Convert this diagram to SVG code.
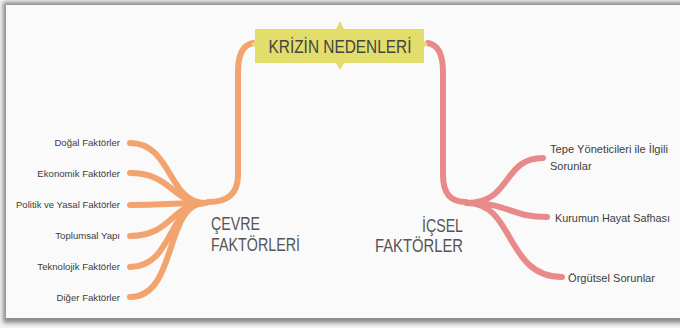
<svg xmlns="http://www.w3.org/2000/svg" width="680" height="328" viewBox="0 0 680 328">
<defs>
<filter id="blur" x="-5%" y="-5%" width="110%" height="110%"><feGaussianBlur stdDeviation="2.2"/></filter>
<style>
.lbl{font-family:"Liberation Sans",Arial,sans-serif;font-size:9.6px;fill:#3d3d3d;}
.rl{font-family:"Liberation Sans",Arial,sans-serif;font-size:11px;fill:#3d3d3d;}
.big{font-family:"Liberation Sans",Arial,sans-serif;font-size:18px;fill:#555;}
.title{font-family:"Liberation Sans",Arial,sans-serif;font-size:18px;fill:#444;}
.or{fill:none;stroke:#f2a36e;stroke-linecap:round;}
.pk{fill:none;stroke:#e98a8a;stroke-linecap:round;}
</style>
</defs>
<rect x="0" y="0" width="680" height="328" fill="#f3f3f3"/>
<rect x="3" y="2" width="690" height="321" fill="#8a8a8a" filter="url(#blur)"/>
<rect x="6" y="5" width="680" height="313" fill="#fafafa"/>

<g id="connectors">
<path class="or" stroke-width="6" d="M253 43 C242 45 238 55 238 72 L238 175 C238 195 226 202 208 202"/>
<path class="pk" stroke-width="6" d="M428 43 C439 45 443 55 443 72 L443 175 C443 195 452 202 466 202"/>
<g class="or">
<path stroke-width="6" d="M205 203 C168 203 172 143 130 143"/>
<path stroke-width="6" d="M205 203 C172 203 172 173 130 173"/>
<path stroke-width="6" d="M205 203 C170 203 165 205 130 205"/>
<path stroke-width="6" d="M205 203 C172 203 172 236 130 236"/>
<path stroke-width="6" d="M205 203 C168 203 174 267 130 267"/>
<path stroke-width="6" d="M205 203 C164 203 178 297 130 297"/>
</g>
<g class="pk">
<path stroke-width="6" d="M467 203 C512 203 502 158 543 158"/>
<path stroke-width="6" d="M467 203 C510 203 510 217 547 217"/>
<path stroke-width="6" d="M467 203 C515 203 505 277 562 277"/>
</g>
</g>

<g id="root">
<path d="M255 29 L336 29 L340 21 L344 29 L424 29 L424 41 L428 44 L424 47 L424 63 L344 63 L340 70 L336 63 L255 63 L255 47 L251 44 L255 41 Z" fill="#e3dd6c"/>
<text class="title" x="340" y="52.5" text-anchor="middle" textLength="143" lengthAdjust="spacingAndGlyphs">KRİZİN NEDENLERİ</text>
</g>

<g id="cevre">
<text class="big" x="211" y="230" textLength="49" lengthAdjust="spacingAndGlyphs">ÇEVRE</text>
<text class="big" x="211" y="251" textLength="89" lengthAdjust="spacingAndGlyphs">FAKTÖRLERİ</text>
</g>
<g id="icsel">
<text class="big" x="463" y="232" text-anchor="end" textLength="41" lengthAdjust="spacingAndGlyphs">İÇSEL</text>
<text class="big" x="463" y="252" text-anchor="end" textLength="88" lengthAdjust="spacingAndGlyphs">FAKTÖRLER</text>
</g>

<g id="l1"><text class="lbl" x="120" y="146" text-anchor="end">Doğal Faktörler</text></g>
<g id="l2"><text class="lbl" x="120" y="177" text-anchor="end">Ekonomik Faktörler</text></g>
<g id="l3"><text class="lbl" x="120" y="208" text-anchor="end" textLength="104" lengthAdjust="spacingAndGlyphs">Politik ve Yasal Faktörler</text></g>
<g id="l4"><text class="lbl" x="120" y="239" text-anchor="end">Toplumsal Yapı</text></g>
<g id="l5"><text class="lbl" x="120" y="270" text-anchor="end">Teknolojik Faktörler</text></g>
<g id="l6"><text class="lbl" x="120" y="301" text-anchor="end">Diğer Faktörler</text></g>

<g id="r1"><text class="rl" x="550" y="153" textLength="118" lengthAdjust="spacingAndGlyphs">Tepe Yöneticileri ile İlgili</text><text class="rl" x="550" y="170">Sorunlar</text></g>
<g id="r2"><text class="rl" x="555" y="222" textLength="115" lengthAdjust="spacingAndGlyphs">Kurumun Hayat Safhası</text></g>
<g id="r3"><text class="rl" x="568" y="282" textLength="87" lengthAdjust="spacingAndGlyphs">Örgütsel Sorunlar</text></g>
</svg>
